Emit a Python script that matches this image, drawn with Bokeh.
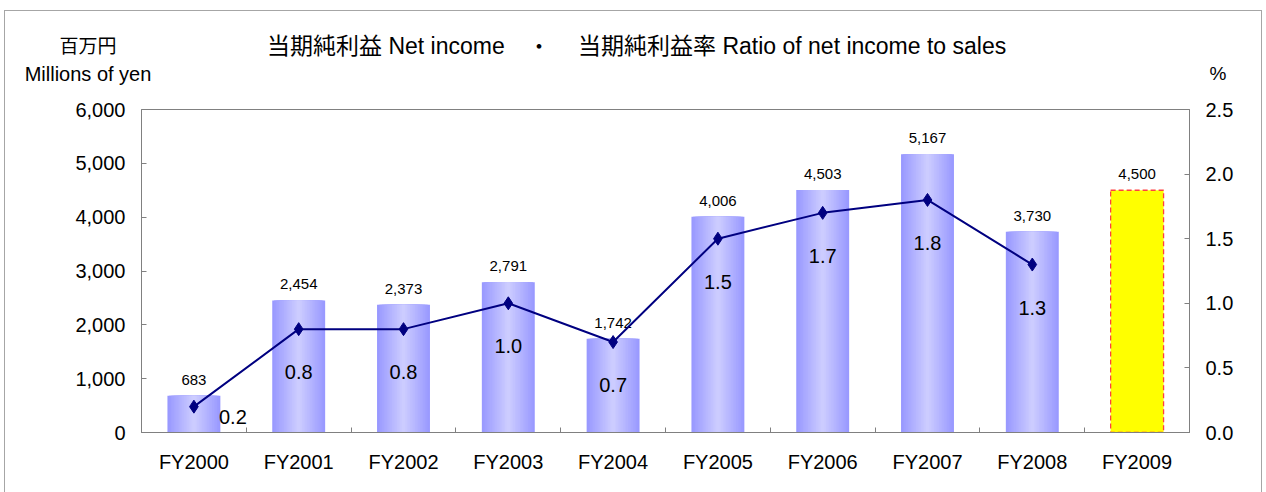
from bokeh.plotting import figure
from bokeh.models import Range1d, LinearAxis, FixedTicker, NumeralTickFormatter, Div
from bokeh.layouts import column
from bokeh.core.properties import value
from bokeh.embed import file_html
from bokeh.resources import INLINE

# ---- data ----
categories = ["FY2000", "FY2001", "FY2002", "FY2003", "FY2004",
              "FY2005", "FY2006", "FY2007", "FY2008", "FY2009"]
net_income = [683, 2454, 2373, 2791, 1742, 4006, 4503, 5167, 3730, 4500]
ratio = [0.2, 0.8, 0.8, 1.0, 0.7, 1.5, 1.7, 1.8, 1.3]
income_labels = ["683", "2,454", "2,373", "2,791", "1,742",
                 "4,006", "4,503", "5,167", "3,730", "4,500"]
ratio_labels = ["0.2", "0.8", "0.8", "1.0", "0.7", "1.5", "1.7", "1.8", "1.3"]
left_ticks = [0, 1000, 2000, 3000, 4000, 5000, 6000]
right_ticks = [0.0, 0.5, 1.0, 1.5, 2.0, 2.5]

title_left = "当期純利益 Net income"
title_sep = "・"
title_right = "当期純利益率 Ratio of net income to sales"
unit_jp = "百万円"
unit_en = "Millions of yen"
unit_pct = "%"

FONT = "Liberation Sans"

n_act = len(ratio)
xs = list(range(len(categories)))

HEAD = 95  # height of the text band above the chart

p = figure(width=1264, height=397, frame_width=1048, frame_height=323,
           min_border_left=141, min_border_right=75,
           min_border_top=14, min_border_bottom=60,
           x_range=Range1d(-0.5, len(categories) - 0.5),
           y_range=Range1d(0, 6000),
           output_backend="svg", toolbar_location=None,
           background_fill_color="white", border_fill_color="white")
p.margin = 0
p.extra_y_ranges = {"pct": Range1d(0, 2.5)}
p.xgrid.visible = False
p.ygrid.visible = False
p.outline_line_color = "#808080"
p.outline_line_width = 1

# ---- gradient bars (actual results) ----
dark = (0x99, 0x99, 0xFF)
light = (0xCC, 0xCC, 0xFF)
steps = 16
bar_w = 0.505
for i in range(steps):
    t = i / (steps - 1)
    c = tuple(int(round(dark[k] + (light[k] - dark[k]) * t)) for k in range(3))
    col = "#%02x%02x%02x" % c
    w = bar_w * (1 - i / steps)
    p.vbar(x=xs[:n_act], top=net_income[:n_act], width=w, bottom=0,
           fill_color=col, line_color=None)

# ---- forecast bar ----
p.vbar(x=xs[n_act:], top=net_income[n_act:], width=bar_w, bottom=0,
       fill_color="#FFFF00", line_color="#FF4040", line_dash="5 3", line_width=1.3)

# ---- bar value labels ----
p.text(x=xs, y=net_income, text=income_labels, text_align="center",
       text_baseline="middle", y_offset=-16, text_font=value(FONT),
       text_font_size="15px", text_color="black")

# ---- ratio line ----
p.line(x=xs[:n_act], y=ratio, y_range_name="pct", line_color="#000080", line_width=2)
p.scatter(x=xs[:n_act], y=ratio, y_range_name="pct", marker="diamond", size=13,
          fill_color="#000080", line_color="#000080")

p.text(x=xs[1:n_act], y=ratio[1:], y_range_name="pct", text=ratio_labels[1:],
       text_align="center", text_baseline="middle", y_offset=43,
       text_font=value(FONT), text_font_size="20px", text_color="black")
p.text(x=xs[:1], y=ratio[:1], y_range_name="pct", text=ratio_labels[:1],
       text_align="center", text_baseline="middle", x_offset=39, y_offset=10,
       text_font=value(FONT), text_font_size="20px", text_color="black")

# ---- axes ----
xa = p.xaxis[0]
xa.ticker = FixedTicker(ticks=xs, minor_ticks=[i + 0.5 for i in xs[:-1]])
xa.major_label_overrides = {i: c for i, c in zip(xs, categories)}
xa.major_tick_line_color = None
xa.major_tick_in = 0
xa.major_tick_out = 0
xa.minor_tick_in = 5
xa.minor_tick_out = 0
xa.minor_tick_line_color = "#808080"
xa.axis_line_color = "#808080"
xa.major_label_text_font = FONT
xa.major_label_text_font_size = "20px"
xa.major_label_text_color = "black"
xa.major_label_standoff = 18

ya = p.yaxis[0]
ya.ticker = FixedTicker(ticks=left_ticks)
ya.formatter = NumeralTickFormatter(format="0,0")
ya.minor_tick_line_color = None
ya.major_tick_in = 5
ya.major_tick_out = 0
ya.major_tick_line_color = "#808080"
ya.axis_line_color = "#808080"
ya.major_label_text_font = FONT
ya.major_label_text_font_size = "20px"
ya.major_label_text_color = "black"
ya.major_label_standoff = 16

ra = LinearAxis(y_range_name="pct", ticker=FixedTicker(ticks=right_ticks),
                formatter=NumeralTickFormatter(format="0.0"))
ra.minor_tick_line_color = None
ra.major_tick_in = 5
ra.major_tick_out = 0
ra.major_tick_line_color = "#808080"
ra.axis_line_color = "#808080"
ra.major_label_text_font = FONT
ra.major_label_text_font_size = "20px"
ra.major_label_text_color = "black"
ra.major_label_standoff = 16
p.add_layout(ra, "right")

# ---- heading band (titles, units, outer frame) ----
fam = "'Liberation Sans','Noto Sans CJK JP',sans-serif"
def span(text, left, top, size, center=True):
    tr = "translate(-50%,-50%)" if center else "translate(0,-50%)"
    return (f'<span style="position:absolute;left:{left}px;top:{top}px;transform:{tr};'
            f'font-size:{size}px;line-height:1.2;white-space:nowrap;">{text}</span>')

html = (f'<div style="position:relative;width:1266px;height:{HEAD}px;color:#000;'
        f'font-family:{fam};">'
        '<div style="position:absolute;left:4px;top:10px;width:1258px;height:492px;'
        'border:1px solid #a6a6a6;box-sizing:border-box;pointer-events:none;"></div>'
        + span(unit_jp, 88, 47, 19)
        + span(unit_en, 88, 74, 20)
        + span(title_left, 267, 47, 23, center=False)
        + span(title_sep, 539, 47, 22)
        + span(title_right, 578, 47, 23, center=False)
        + span(unit_pct, 1218, 74, 19)
        + '</div>')
head = Div(text=html, width=1266, height=HEAD, margin=0,
           styles={"overflow": "visible", "position": "relative", "z-index": "5"})

layout = column(head, p, spacing=0)
open("out.html", "w").write(file_html(layout, INLINE))
